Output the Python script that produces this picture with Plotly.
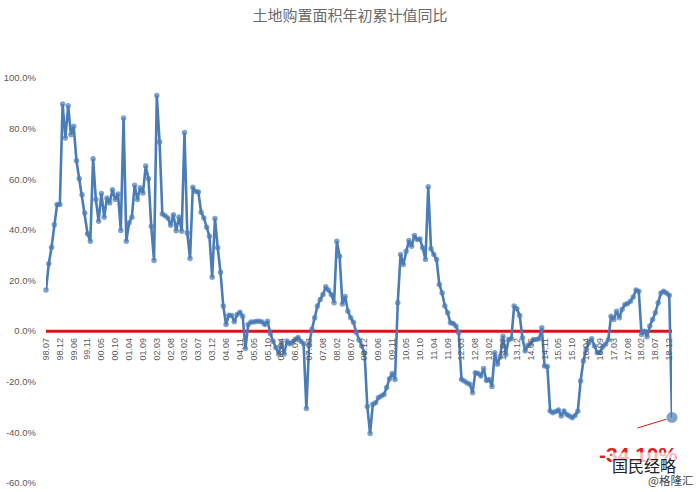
import plotly.graph_objects as go

# ---- data ----
v1998 = [16.2, 26.6, 33.1, 42.0, 50.0, 50.0]
v1999 = [89.7, 76.3, 89.0, 77.6, 80.9, 67.3, 60.2, 53.9, 46.7, 38.5, 35.5]
v2000 = [68.1, 52.0, 43.4, 54.4, 45.0, 52.6, 50.6, 55.9, 52.0, 54.2, 39.8]
v2001 = [84.2, 35.5, 42.8, 45.0, 57.6, 52.0, 56.6, 54.6, 65.2, 60.2, 41.4]
v2002 = [27.9, 93.1, 74.7, 46.3, 45.6, 44.7, 41.8, 46.0, 39.7, 45.1, 39.5]
v2003 = [78.5, 38.8, 28.7, 56.8, 55.2, 55.0, 47.0, 44.7, 41.0, 37.5, 21.3]
v2004 = [44.5, 32.9, 23.3, 9.9, 2.6, 6.3, 6.2, 3.7, 6.6, 7.5, 5.9]
v2005 = [-6.9, 2.6, 3.6, 3.6, 3.9, 3.9, 3.6, 2.6, 3.9, -1.0, -4.0]
v2006 = [-6.5, -9.0, -4.6, -9.0, -3.9, -5.0, -4.3, -3.2, -2.5, -4.0, -5.0]
v2007 = [-30.6, -5.2, 0.7, 5.3, 9.9, 12.5, 14.5, 17.5, 16.2, 14.5, 11.2]
v2008 = [35.5, 29.6, 10.7, 13.7, 7.9, 5.3, 3.5, -0.5, -3.5, -5.9, -8.6]
v2009 = [-29.8, -40.4, -28.9, -28.3, -26.3, -25.6, -25.0, -22.3, -18.8, -16.7, -19.1]
v2010 = [11.2, 30.3, 26.3, 31.6, 35.8, 33.5, 37.8, 36.2, 36.4, 32.9, 28.3]
v2011 = [57.0, 32.5, 30.3, 28.3, 18.4, 15.1, 9.9, 7.3, 3.3, 3.0, 2.0]
v2012 = [-0.6, -19.1, -19.7, -20.5, -21.0, -24.3, -16.4, -16.7, -17.7, -14.8, -19.5]
v2013 = [-19.1, -21.9, -8.5, -13.1, -9.9, -2.0, -9.2, -3.3, -3.0, 9.9, 8.8]
v2014 = [6.2, -2.6, -7.9, -5.6, -4.9, -3.3, -3.3, -3.0, 1.3, -13.8, -14.0]
v2015 = [-31.6, -32.2, -31.8, -31.2, -33.5, -31.6, -32.9, -33.5, -34.2, -33.3, -31.7]
v2016 = [-19.7, -11.8, -7.2, -4.6, -3.0, -5.9, -8.5, -8.3, -6.2, -5.2, -3.4]
v2017 = [5.9, 4.6, 7.9, 5.3, 8.6, 10.5, 10.9, 11.8, 13.5, 16.2, 15.8]
v2018 = [-1.3, 0.0, -2.2, 2.0, 4.6, 7.3, 11.2, 15.1, 15.8, 15.1, 14.2]
v2019 = [-34.1]

yearly = [(1998, list(range(7, 13)), v1998)]
for yr, vals in zip(range(1999, 2019),
                    [v1999, v2000, v2001, v2002, v2003, v2004, v2005, v2006, v2007, v2008,
                     v2009, v2010, v2011, v2012, v2013, v2014, v2015, v2016, v2017, v2018]):
    yearly.append((yr, list(range(2, 13)), vals))
yearly.append((2019, [2], v2019))

categories = []
values = []
for yr, months, vals in yearly:
    for m, v in zip(months, vals):
        categories.append(f"{yr % 100:02d}.{m:02d}")
        values.append(v)

tick_labels = categories[::5]
y_ticks = [-60, -40, -20, 0, 20, 40, 60, 80, 100]
y_tick_text = [f"{v:.1f}%" for v in y_ticks]
last_label = "-34.10%"

BLUE = "#4A7CB8"
RED = "#D01818"
GRAY = "#595959"

# plot-area geometry helper (pixels -> paper)
L, R, T, B = 46, 28, 78, 9
W, H = 700, 492
PW, PH = W - L - R, H - T - B


def px(xp):
    return (xp - L) / PW


def py(yp):
    return (H - B - yp) / PH


sizes = [5.5] * (len(values) - 1) + [11]
last_idx = len(values) - 1

fig = go.Figure()
fig.add_trace(go.Scatter(
    x=list(range(len(categories))), y=values, mode="lines+markers",
    line=dict(color=BLUE, width=2.6),
    marker=dict(color=BLUE, size=sizes, line=dict(width=0)),
    cliponaxis=False, showlegend=False, hoverinfo="skip",
))

fig.add_shape(type="line", xref="paper", yref="y", x0=0, x1=1, y0=0, y1=0,
              line=dict(color=RED, width=3), layer="below")

fig.update_layout(
    width=W, height=H,
    margin=dict(l=L, r=R, t=T, b=B, pad=0, autoexpand=False),
    paper_bgcolor="white", plot_bgcolor="white",
    title=dict(text="土地购置面积年初累计值同比", x=0.5, xref="container", xanchor="center",
               y=1 - 16 / H, yref="container", yanchor="middle",
               font=dict(family="Noto Sans CJK SC", size=15, color="#6a6a6a")),
    xaxis=dict(range=[0, last_idx], automargin=False,
               tickmode="array", tickvals=list(range(0, len(categories), 5)), ticktext=tick_labels,
               tickangle=-90, tickfont=dict(family="Liberation Sans", size=9, color=GRAY),
               showgrid=False, zeroline=False, showline=False, ticks="",
               anchor="free", position=60 / 160, ticklabelstandoff=4),
    yaxis=dict(range=[-60, 100], automargin=False,
               tickmode="array", tickvals=y_ticks, ticktext=y_tick_text,
               tickfont=dict(family="Liberation Sans", size=9.5, color=GRAY),
               showgrid=False, zeroline=False, showline=False, ticks="",
               ticklabelstandoff=9),
    annotations=[
        dict(x=last_idx, y=values[-1], xref="x", yref="y", text="",
             showarrow=True, arrowhead=0, arrowwidth=1, arrowcolor=RED,
             ax=-36, ay=11, standoff=6),
        dict(x=px(638), y=py(454), xref="paper", yref="paper", text=f"<b>{last_label}</b>",
             showarrow=False, xanchor="center", yanchor="middle",
             font=dict(family="Liberation Sans", size=21, color="#E0201C")),
        dict(x=px(644), y=py(465), xref="paper", yref="paper", text="国民经略",
             showarrow=False, xanchor="center", yanchor="middle",
             bgcolor="rgba(255,255,255,0.7)", borderpad=0,
             font=dict(family="Noto Sans CJK SC", size=16, color="#222222")),
        dict(x=px(670), y=py(480), xref="paper", yref="paper", text="@格隆汇",
             showarrow=False, xanchor="center", yanchor="middle", borderpad=0,
             font=dict(family="Noto Sans CJK SC", size=11.5, color="#444444")),
    ],
)

fig.write_html(
    "out.html",
    config={"displayModeBar": False, "staticPlot": True},
    post_script="document.body.style.margin='0';document.body.style.overflow='hidden';",
)
